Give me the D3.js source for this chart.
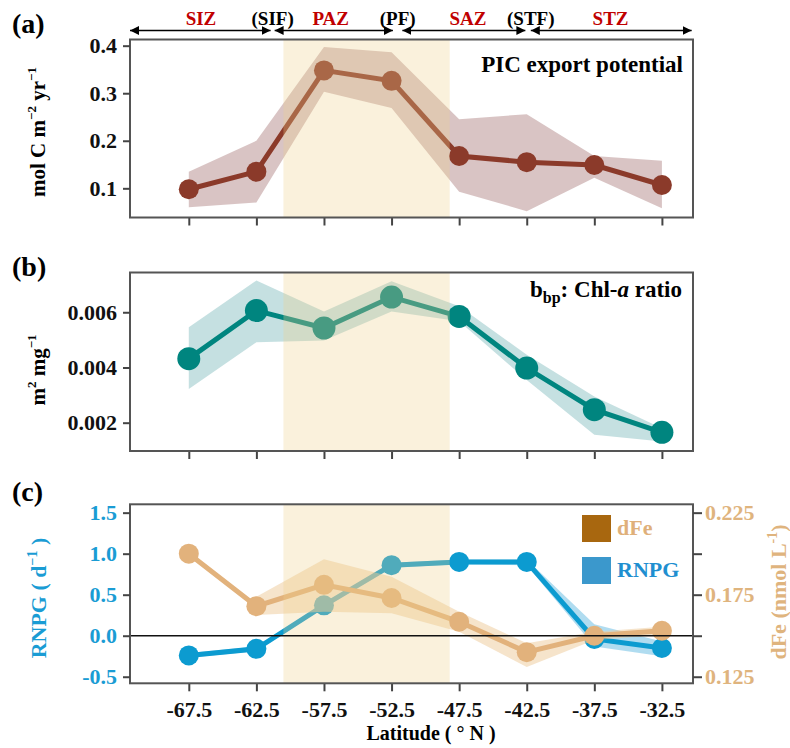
<!DOCTYPE html>
<html>
<head>
<meta charset="utf-8">
<script src="https://cdn.jsdelivr.net/npm/d3@7"></script>
<style>
body { margin: 0; background: #fff; }
text { font-family: "Liberation Serif", "Times New Roman", serif; font-weight: bold; }
</style>
</head>
<body>
<div id="main"></div>
<script>
const ctx = {
    w: 790,
    h: 748,
    left: 130,
    right: 693,
};

// latitude bins
const lat = [-67.5, -62.5, -57.5, -52.5, -47.5, -42.5, -37.5, -32.5];

// (a) PIC export potential
const picMean = [0.098, 0.135, 0.348, 0.326, 0.168, 0.155, 0.149, 0.107];
const picLow  = [0.060, 0.070, 0.303, 0.269, 0.093, 0.052, 0.122, 0.058];
const picHigh = [0.135, 0.200, 0.397, 0.386, 0.245, 0.256, 0.168, 0.158];

// (b) bbp : Chl-a
const bbpMean = [0.00432, 0.00606, 0.00543, 0.00655, 0.00585, 0.00398, 0.00247, 0.00165];
const bbpLow  = [0.00322, 0.00491, 0.00498, 0.00603, 0.00567, 0.00355, 0.00156, 0.00132];
const bbpHigh = [0.00546, 0.00715, 0.00603, 0.00712, 0.00622, 0.00446, 0.00295, 0.00180];

// (c) RNPG and dFe
const rnpgMean = [-0.24, -0.16, 0.37, 0.86, 0.90, 0.90, -0.04, -0.15];
const rnpgLow  = [-0.27, -0.19, 0.34, 0.83, 0.87, 0.86, -0.13, -0.25];
const rnpgHigh = [-0.21, -0.13, 0.40, 0.89, 0.93, 0.93, 0.14, -0.07];
const dfeMean = [0.200, 0.168, 0.181, 0.173, 0.1585, 0.140, 0.150, 0.153];
const dfeLow  = [null, 0.1626, 0.1646, 0.1637, 0.1524, 0.131, 0.1474, 0.1504];
const dfeHigh = [null, 0.1738, 0.1966, 0.186, 0.1646, 0.1454, 0.1524, 0.1555];

// zones and fronts along the top
const zoneNames = ["SIZ", "PAZ", "SAZ", "STZ"];
const zoneStart = [-71.85, -61.15, -51.7, -42.2];
const zoneEnd = [-61.45, -52.4, -42.6, -30.3];
const zoneLabelLat = [-66.6, -57.0, -46.85, -36.3];
const frontNames = ["(SIF)", "(PF)", "(STF)"];
const frontLat = [-61.3, -52.05, -42.2];
const pazBand = [-60.5, -48.2];

// ticks
const picTicks = [0.1, 0.2, 0.3, 0.4];
const bbpTicks = [0.002, 0.004, 0.006];
const rnpgTicks = [-0.5, 0, 0.5, 1.0, 1.5];
const dfeTicks = [0.125, 0.15, 0.175, 0.2, 0.225];
const dfeTickLabels = ["0.125", "", "0.175", "", "0.225"];

const x = d3.scaleLinear().domain([-71.85, -30.2]).range([ctx.left, ctx.right]);

function rows(mean, lo, hi) {
    return lat.map((l, i) => ({lat: l, v: mean[i], lo: lo[i], hi: hi[i]}));
}

function drawSeries(g, y, data, col, bandCol, bandOp, r) {
    const area = d3.area()
        .defined(d => d.lo != null)
        .x(d => x(d.lat)).y0(d => y(d.lo)).y1(d => y(d.hi));
    g.append("path").datum(data)
        .attr("d", area)
        .attr("fill", bandCol).attr("fill-opacity", bandOp);
    g.append("path").datum(data)
        .attr("d", d3.line().x(d => x(d.lat)).y(d => y(d.v)))
        .attr("fill", "none").attr("stroke", col).attr("stroke-width", 5);
    g.selectAll(null).data(data).enter().append("circle")
        .attr("cx", d => x(d.lat)).attr("cy", d => y(d.v))
        .attr("r", r).attr("fill", col);
}

function drawShade(g, top, bottom) {
    g.append("rect")
        .attr("x", x(pazBand[0])).attr("width", x(pazBand[1]) - x(pazBand[0]))
        .attr("y", top).attr("height", bottom - top)
        .attr("fill", "rgb(240,210,140)").attr("fill-opacity", 0.3);
}

function styleAxis(ax, col) {
    ax.select(".domain").remove();
    ax.selectAll(".tick line").attr("stroke", "#444").attr("stroke-width", 2);
    ax.selectAll(".tick text").attr("fill", col)
        .style("font-family", "'Liberation Serif', serif").style("font-weight", "bold")
        .style("font-size", "22px");
}

// plain hyphen for negatives, like the original figure
const fmt1 = d => d.toFixed(1);

function drawFrame(g, top, bottom, showLabels) {
    const ax = g.append("g").attr("transform", `translate(0,${bottom})`)
        .call(d3.axisBottom(x).tickValues(lat).tickSize(8).tickPadding(10)
            .tickFormat(showLabels ? fmt1 : () => ""));
    styleAxis(ax, "#111");
    g.append("rect")
        .attr("x", ctx.left).attr("y", top)
        .attr("width", ctx.right - ctx.left).attr("height", bottom - top)
        .attr("fill", "none").attr("stroke", "#555").attr("stroke-width", 2);
}

function sup(t, s, size) {
    t.append("tspan").attr("dy", -9).attr("font-size", size).text(s);
}

function createZones(svgEl) {
    const g = svgEl.append("g");
    const defs = svgEl.append("defs");
    defs.append("marker").attr("id", "ah").attr("viewBox", "0 0 10 10")
        .attr("refX", 10).attr("refY", 5)
        .attr("markerWidth", 9).attr("markerHeight", 9)
        .attr("markerUnits", "userSpaceOnUse").attr("orient", "auto-start-reverse")
        .append("path").attr("d", "M0,0L10,5L0,10z").attr("fill", "#000");
    zoneNames.forEach((z, i) => {
        g.append("line")
            .attr("x1", x(zoneStart[i])).attr("x2", x(zoneEnd[i]))
            .attr("y1", 30.5).attr("y2", 30.5)
            .attr("stroke", "#000").attr("stroke-width", 1.5)
            .attr("marker-start", "url(#ah)").attr("marker-end", "url(#ah)");
        g.append("text").attr("x", x(zoneLabelLat[i])).attr("y", 25)
            .attr("text-anchor", "middle").attr("font-size", 19)
            .attr("fill", "#c00000").text(z);
    });
    frontNames.forEach((f, i) => {
        g.append("text").attr("x", x(frontLat[i])).attr("y", 25)
            .attr("text-anchor", "middle").attr("font-size", 19)
            .attr("fill", "#000").text(f);
    });
}

function createPanelA(svgEl) {
    const top = 39.5, bottom = 217.5;
    const y = d3.scaleLinear().domain([0.0386, 0.413]).range([bottom, top]);
    const g = svgEl.append("g");
    drawSeries(g, y, rows(picMean, picLow, picHigh), "#8b3a2a", "#b48a8a", 0.5, 10);
    drawShade(g, top, bottom);
    drawFrame(g, top, bottom, false);
    styleAxis(g.append("g").attr("transform", `translate(${ctx.left},0)`)
        .call(d3.axisLeft(y).tickValues(picTicks).tickSize(7).tickPadding(6).tickFormat(fmt1)), "#111");
    g.append("text").attr("x", 683).attr("y", 72).attr("text-anchor", "end")
        .attr("font-size", 23).text("PIC export potential");
    const t = g.append("text").attr("transform", "translate(45,132) rotate(-90)")
        .attr("text-anchor", "middle").attr("font-size", 21);
    t.append("tspan").text("mol C m");
    sup(t, "\u22122", 13);
    t.append("tspan").attr("dy", 9).text(" yr");
    sup(t, "\u22121", 13);
    g.append("text").attr("x", 12).attr("y", 33).attr("font-size", 28).text("(a)");
}

function createPanelB(svgEl) {
    const top = 272.5, bottom = 451;
    const y = d3.scaleLinear().domain([0.000975, 0.00744]).range([bottom, top]);
    const g = svgEl.append("g");
    drawSeries(g, y, rows(bbpMean, bbpLow, bbpHigh), "#00857f", "#5aa5a8", 0.35, 11.5);
    drawShade(g, top, bottom);
    drawFrame(g, top, bottom, false);
    styleAxis(g.append("g").attr("transform", `translate(${ctx.left},0)`)
        .call(d3.axisLeft(y).tickValues(bbpTicks).tickSize(7).tickPadding(6).tickFormat(d3.format(".3f"))), "#111");
    const lab = g.append("text").attr("x", 682).attr("y", 297).attr("text-anchor", "end")
        .attr("font-size", 23);
    lab.append("tspan").text("b");
    lab.append("tspan").attr("dy", 6).attr("font-size", 16).text("bp");
    lab.append("tspan").attr("dy", -6).text(": Chl-");
    lab.append("tspan").attr("font-style", "italic").text("a");
    lab.append("tspan").text(" ratio");
    const t = g.append("text").attr("transform", "translate(45,370) rotate(-90)")
        .attr("text-anchor", "middle").attr("font-size", 21);
    t.append("tspan").text("m");
    sup(t, "2", 13);
    t.append("tspan").attr("dy", 9).text(" mg");
    sup(t, "\u22121", 13);
    g.append("text").attr("x", 12).attr("y", 276).attr("font-size", 28).text("(b)");
}

function createPanelC(svgEl) {
    const top = 504.3, bottom = 683.3;
    const y = d3.scaleLinear().domain([-0.58, 1.602]).range([bottom, top]);
    const y2 = d3.scaleLinear().domain([0.121, 0.2301]).range([bottom, top]);
    const g = svgEl.append("g");
    drawSeries(g, y, rows(rnpgMean, rnpgLow, rnpgHigh), "#0c9bd0", "#7cc4e6", 0.6, 10);
    drawSeries(g, y2, rows(dfeMean, dfeLow, dfeHigh), "#e2b27c", "#edc998", 0.5, 10);
    drawShade(g, top, bottom);
    g.append("line").attr("x1", ctx.left).attr("x2", ctx.right)
        .attr("y1", y(0)).attr("y2", y(0)).attr("stroke", "#111").attr("stroke-width", 1.5);
    drawFrame(g, top, bottom, true);
    styleAxis(g.append("g").attr("transform", `translate(${ctx.left},0)`)
        .call(d3.axisLeft(y).tickValues(rnpgTicks).tickSize(7).tickPadding(6).tickFormat(fmt1)), "#1a9cd4");
    styleAxis(g.append("g").attr("transform", `translate(${ctx.right},0)`)
        .call(d3.axisRight(y2).tickValues(dfeTicks).tickSize(9).tickPadding(3)
            .tickFormat((d, i) => dfeTickLabels[i])), "#dfb47e");

    // legend
    const leg = [["dFe", "#a8670f", "#dfb07a", 515], ["RNPG", "#3b98cc", "#1f8fd0", 557]];
    leg.forEach(l => {
        g.append("rect").attr("x", 582).attr("y", l[3]).attr("width", 29).attr("height", 27).attr("fill", l[1]);
        g.append("text").attr("x", 617).attr("y", l[3] + 20).attr("font-size", 22).attr("fill", l[2]).text(l[0]);
    });

    const t = g.append("text").attr("transform", "translate(46,598) rotate(-90)")
        .attr("text-anchor", "middle").attr("font-size", 22).attr("fill", "#1a9cd4");
    t.append("tspan").text("RNPG ( d");
    sup(t, "\u22121", 14);
    t.append("tspan").attr("dy", 9).text(" )");
    const t2 = g.append("text").attr("transform", "translate(786,592) rotate(-90)")
        .attr("text-anchor", "middle").attr("font-size", 22).attr("fill", "#dfb47e");
    t2.append("tspan").text("dFe (nmol L");
    sup(t2, "-1", 14);
    t2.append("tspan").attr("dy", 9).text(")");

    g.append("text").attr("x", 431).attr("y", 740).attr("text-anchor", "middle")
        .attr("font-size", 20).text("Latitude ( \u00b0 N )");
    g.append("text").attr("x", 12).attr("y", 501).attr("font-size", 28).text("(c)");
}

function createViz() {
    const svgEl = d3.select("#main").append("svg")
        .attr("width", ctx.w)
        .attr("height", ctx.h);
    createZones(svgEl);
    createPanelA(svgEl);
    createPanelB(svgEl);
    createPanelC(svgEl);
}

createViz();
</script>
</body>
</html>
